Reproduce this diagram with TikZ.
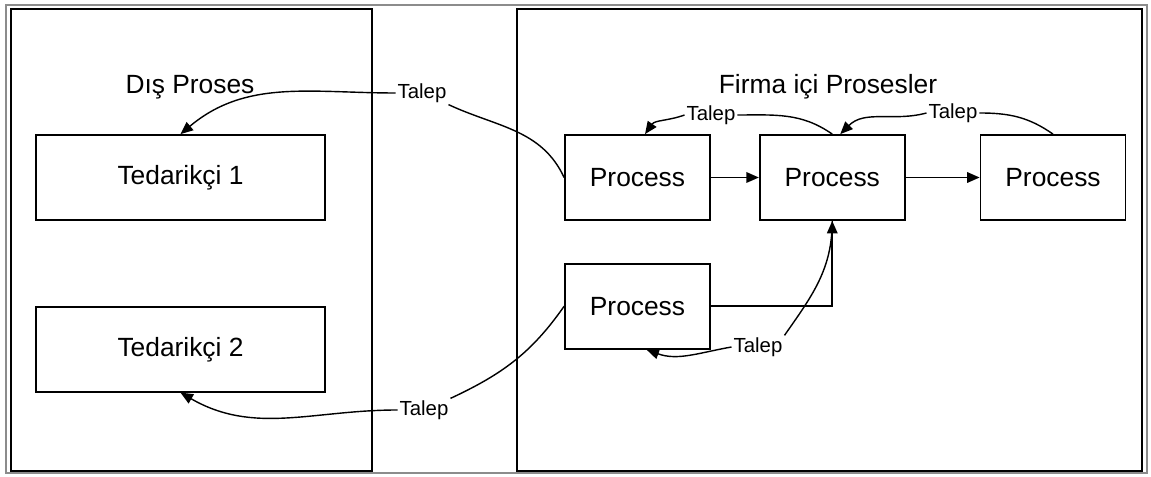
\documentclass[tikz,border=0pt]{standalone}
\usepackage{fontspec}
\setmainfont{Liberation Sans}
\usetikzlibrary{arrows.meta,positioning}
\tikzset{
    procbox/.style={rectangle,draw,line width=1pt,align=center,minimum width=2.9cm,minimum height=1.7cm,font=\fontsize{15}{17}\selectfont},
    suppbox/.style={procbox,minimum width=5.78cm},
    paneltitle/.style={font=\fontsize{15}{17}\selectfont},
    reqlabel/.style={inner sep=1pt,font=\fontsize{11.6}{13}\selectfont},
    panelframe/.style={draw,line width=1pt},
    reqline/.style={line width=0.8pt},
    reqarrow/.style={-{Triangle[length=2.5mm,width=2.1mm]},line width=0.8pt},
    flowline/.style={-{Triangle[length=2.5mm,width=2.1mm]},line width=1pt}
}
\begin{document}
\begin{tikzpicture}
    \useasboundingbox (0,0) rectangle (23.02,-9.54);
    % outer frame and the two panels
    \draw[black!45,line width=0.8pt] (0.12,-0.10) rectangle (22.94,-9.46);
    \draw[panelframe] (0.22,-0.18) rectangle (7.44,-9.42);
    \draw[panelframe] (10.34,-0.18) rectangle (22.84,-9.42);
    % suppliers
    \node[paneltitle] (dis) at (3.8,-1.74) {Dış Proses};
    \node[suppbox] (ted1) at (3.61,-3.55) {Tedarikçi 1};
    \node[suppbox,below=1.7cm of ted1] (ted2) {Tedarikçi 2};
    % in-house processes
    \node[paneltitle] (firma) at (16.56,-1.74) {Firma içi Prosesler};
    \node[procbox] (p1) at (12.75,-3.55) {Process};
    \node[procbox,right=0.96cm of p1] (p2) {Process};
    \node[procbox,right=1.48cm of p2] (p3) {Process};
    \node[procbox,below=0.84cm of p1] (p4) {Process};
    % request labels
    \node[reqlabel] (t1) at (8.44,-1.86) {Talep};
    \node[reqlabel] (t2) at (14.22,-2.30) {Talep};
    \node[reqlabel] (t3) at (19.06,-2.26) {Talep};
    \node[reqlabel] (t4) at (15.16,-6.94) {Talep};
    \node[reqlabel] (t5) at (8.48,-8.20) {Talep};
    % material flow
    \draw[flowline] (p1) -- (p2);
    \draw[flowline] (p2) -- (p3);
    \draw[flowline] (p4.east) -| (p2.south);
    % requests
    \draw[reqline] (p1.west) to[out=115,in=-25] (t1.south east);
    \draw[reqarrow] (t1.west) to[out=180,in=40] (ted1.north);
    \draw[reqline] (p4.west) to[out=-125,in=25] (t5.north east);
    \draw[reqarrow] (t5.west) to[out=180,in=-30] (ted2.south);
    \draw[reqline] (p2.north) to[out=145,in=0] (t2.east);
    \draw[reqarrow] (t2.west) to[out=200,in=55] ([xshift=0.15cm]p1.north);
    \draw[reqline] (p3.north) to[out=145,in=0] (t3.east);
    \draw[reqarrow] (t3.west) to[out=195,in=45] ([xshift=0.16cm]p2.north);
    \draw[reqline] (t4.north east) to[out=55,in=-90] (p2.south);
    \draw[reqarrow] (t4.west) to[out=190,in=-20] ([xshift=0.18cm]p4.south);
\end{tikzpicture}
\end{document}
